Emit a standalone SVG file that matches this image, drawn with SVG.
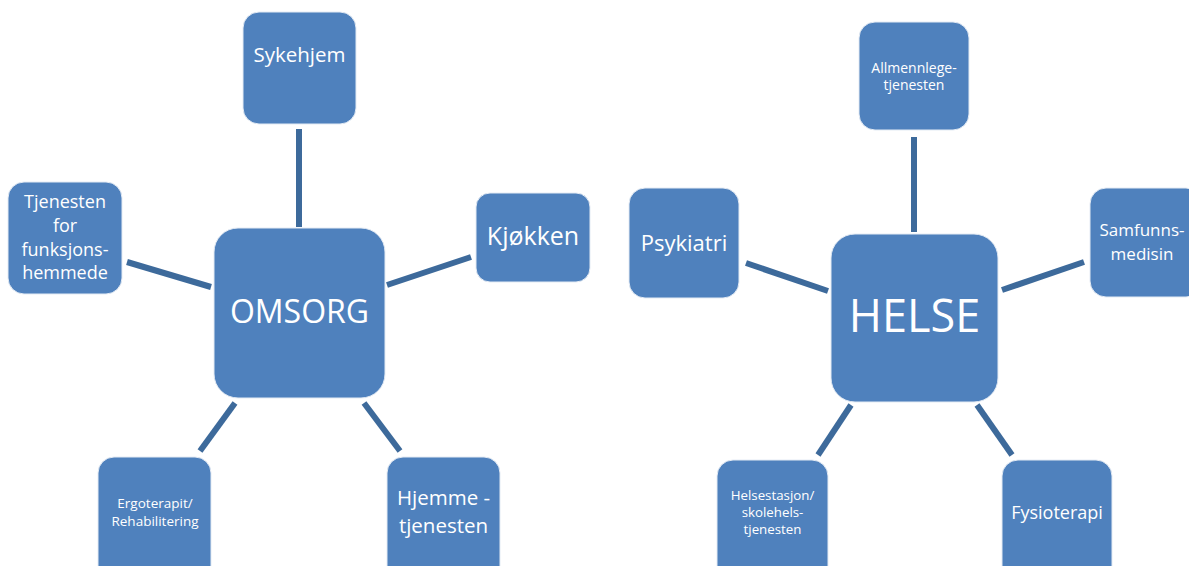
<svg xmlns="http://www.w3.org/2000/svg" width="1189" height="566" viewBox="0 0 1189 566">
<style>
.box{fill:#4f81bd;stroke:#e4ebf4;stroke-width:1}
.t{font-family:"Open Sans","Liberation Sans",sans-serif;fill:#ffffff;text-anchor:middle}
.c{stroke:#3d6a9b;stroke-width:6;fill:none}
</style>
<rect width="1189" height="566" fill="#ffffff"/>
<g id="connectors">
<line class="c" x1="299" y1="129" x2="299" y2="227"/>
<line class="c" x1="127" y1="262" x2="211" y2="287"/>
<line class="c" x1="387" y1="285" x2="471" y2="257"/>
<line class="c" x1="235" y1="403" x2="200" y2="451"/>
<line class="c" x1="364" y1="403" x2="400" y2="451"/>
<line class="c" x1="914" y1="137" x2="914" y2="232"/>
<line class="c" x1="746" y1="263" x2="828" y2="291"/>
<line class="c" x1="1002" y1="290" x2="1084" y2="262"/>
<line class="c" x1="851" y1="405" x2="818" y2="455"/>
<line class="c" x1="977" y1="405" x2="1012" y2="455"/>
</g>
<g id="omsorg"><rect class="box" x="214" y="228" width="171" height="170" rx="24"/><text class="t" x="299.5" y="323" font-size="32">OMSORG</text></g>
<g id="sykehjem"><rect class="box" x="243" y="12" width="113" height="112" rx="16"/><text class="t" x="299.5" y="62" font-size="20.5">Sykehjem</text></g>
<g id="tjenesten"><rect class="box" x="8" y="182" width="114" height="112" rx="16"/><text class="t" font-size="18"><tspan x="65" y="208">Tjenesten</tspan><tspan x="65" y="232">for</tspan><tspan x="65" y="256">funksjons-</tspan><tspan x="65" y="279">hemmede</tspan></text></g>
<g id="kjokken"><rect class="box" x="476" y="193" width="114" height="89" rx="14"/><text class="t" x="533" y="245" font-size="25">Kjøkken</text></g>
<g id="ergoterapit"><rect class="box" x="98" y="457" width="113" height="125" rx="16"/><text class="t" font-size="13.5"><tspan x="155" y="508">Ergoterapit/</tspan><tspan x="155" y="526">Rehabilitering</tspan></text></g>
<g id="hjemme"><rect class="box" x="387" y="457" width="113" height="125" rx="16"/><text class="t" font-size="20.5"><tspan x="443.5" y="505">Hjemme -</tspan><tspan x="443.5" y="533">tjenesten</tspan></text></g>
<g id="helse"><rect class="box" x="831" y="234" width="167" height="168" rx="24"/><text class="t" x="914.5" y="332" font-size="45">HELSE</text></g>
<g id="allmennlege"><rect class="box" x="859" y="22" width="110" height="108" rx="16"/><text class="t" font-size="14"><tspan x="914" y="73">Allmennlege-</tspan><tspan x="914" y="90">tjenesten</tspan></text></g>
<g id="psykiatri"><rect class="box" x="629" y="188" width="110" height="110" rx="16"/><text class="t" x="684" y="251" font-size="22">Psykiatri</text></g>
<g id="samfunns"><rect class="box" x="1090" y="188" width="112" height="109" rx="16"/><text class="t" font-size="17"><tspan x="1142" y="236">Samfunns-</tspan><tspan x="1142" y="260">medisin</tspan></text></g>
<g id="helsestasjon"><rect class="box" x="717" y="460" width="111" height="125" rx="16"/><text class="t" font-size="13.3"><tspan x="772.5" y="500">Helsestasjon/</tspan><tspan x="772.5" y="517">skolehels-</tspan><tspan x="772.5" y="534">tjenesten</tspan></text></g>
<g id="fysioterapi"><rect class="box" x="1002" y="460" width="110" height="125" rx="16"/><text class="t" x="1057" y="519" font-size="18">Fysioterapi</text></g>
</svg>
